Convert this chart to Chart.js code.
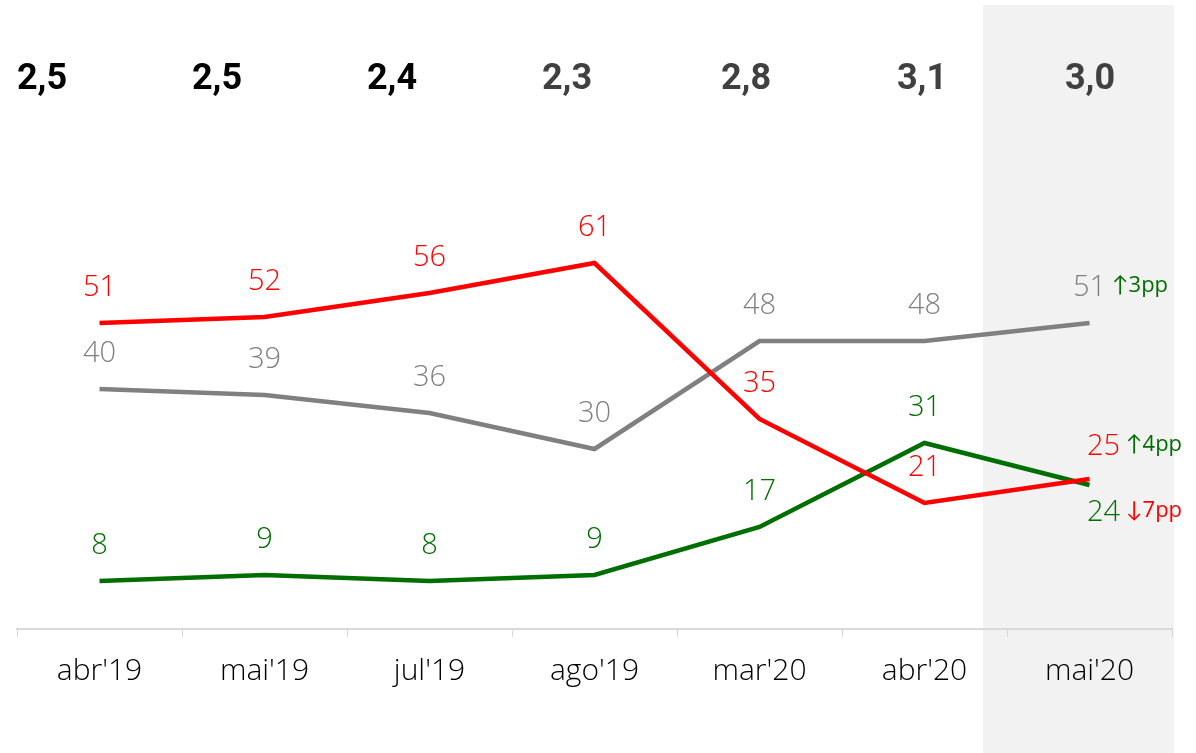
<!DOCTYPE html>
<html>
<head>
<meta charset="utf-8">
<script src="https://cdn.jsdelivr.net/npm/chart.js@4/dist/chart.umd.min.js"></script>
<style>
  html, body { margin: 0; padding: 0; background: #fff; }
  #wrap { width: 1196px; height: 753px; position: relative; }
</style>
</head>
<body>
<div id="wrap"><canvas id="chart"></canvas></div>
<script>
// ---- data ----
const months = ["abr'19", "mai'19", "jul'19", "ago'19", "mar'20", "abr'20", "mai'20"];
const redValues = [51, 52, 56, 61, 35, 21, 25];
const grayValues = [40, 39, 36, 30, 48, 48, 51];
const greenValues = [8, 9, 8, 9, 17, 31, 24];
const topRow = ["2,5", "2,5", "2,4", "2,3", "2,8", "3,1", "3,0"];
const deltaGray = "↑3pp";
const deltaRed = "↑4pp";
const deltaGreen = "↓7pp";

// ---- style / layout ----
const RED = "#ff0000";
const GRAY = "#808080";
const GREEN = "#006e00";
const labelFont = "300 29px 'Open Sans', Lato, sans-serif";
const deltaFont = "22px 'Open Sans', Lato, sans-serif";
const topRowX = [42, 217, 392, 567, 746, 922, 1090];
const topRowColors = ["#000", "#000", "#000", "#404040", "#404040", "#404040", "#404040"];

// grey band behind the last month
const shadePlugin = {
  id: "shade",
  beforeDraw(chart) {
    const ctx = chart.ctx;
    ctx.save();
    ctx.fillStyle = "#f2f2f2";
    ctx.fillRect(983, 5, 191, chart.height - 5);
    ctx.restore();
  }
};

// value labels + top row
const labelPlugin = {
  id: "labels",
  afterDatasetsDraw(chart) {
    const ctx = chart.ctx;
    ctx.save();
    ctx.textBaseline = "middle";

    chart.data.datasets.forEach((ds, di) => {
      const meta = chart.getDatasetMeta(di);
      meta.data.forEach((pt, i) => {
        const last = i === meta.data.length - 1;
        let x = pt.x, y = pt.y - 35;
        if (last && ds.key === "red") { x += 14; y = pt.y - 32; }
        if (last && ds.key === "green") { x += 14; y = pt.y + 28; }
        ctx.font = labelFont;
        ctx.fillStyle = ds.borderColor;
        ctx.textAlign = "center";
        ctx.fillText(String(ds.data[i]), x, y);
        if (last) {
          const w = ctx.measureText(String(ds.data[i])).width;
          let txt, col;
          if (ds.key === "gray") { txt = deltaGray; col = GREEN; }
          if (ds.key === "red") { txt = deltaRed; col = GREEN; }
          if (ds.key === "green") { txt = deltaGreen; col = RED; }
          ctx.font = deltaFont;
          ctx.fillStyle = col;
          ctx.textAlign = "left";
          ctx.fillText(txt, x + w / 2 + 6, y - 2);
        }
      });
    });

    ctx.font = "bold 36px Roboto, 'Liberation Sans', sans-serif";
    ctx.textAlign = "center";
    topRow.forEach((t, i) => {
      ctx.fillStyle = topRowColors[i];
      ctx.fillText(t, topRowX[i], 80);
    });
    ctx.restore();
  }
};

const ctx = document.getElementById("chart").getContext("2d");
new Chart(ctx, {
  type: "line",
  data: {
    labels: months,
    datasets: [
      { key: "red", data: redValues, borderColor: RED },
      { key: "green", data: greenValues, borderColor: GREEN },
      { key: "gray", data: grayValues, borderColor: GRAY }
    ].map(d => Object.assign(d, {
      borderWidth: 4.5,
      pointRadius: 0,
      tension: 0,
      fill: false
    }))
  },
  options: {
    responsive: true,
    maintainAspectRatio: false,
    animation: false,
    layout: { padding: { top: 5, left: 17, right: 24, bottom: 48 } },
    plugins: {
      legend: { display: false },
      tooltip: { enabled: false }
    },
    scales: {
      y: { display: false, min: 0, max: 104 },
      x: {
        offset: true,
        grid: {
          offset: true,
          drawOnChartArea: false,
          drawTicks: true,
          tickLength: 8,
          color: "#d9d9d9"
        },
        border: { color: "#d9d9d9", width: 2 },
        ticks: {
          color: "#000",
          padding: 16,
          font: { family: "'Open Sans', Lato, sans-serif", size: 30, weight: 300 }
        }
      }
    }
  },
  plugins: [shadePlugin, labelPlugin]
});
</script>
</body>
</html>
